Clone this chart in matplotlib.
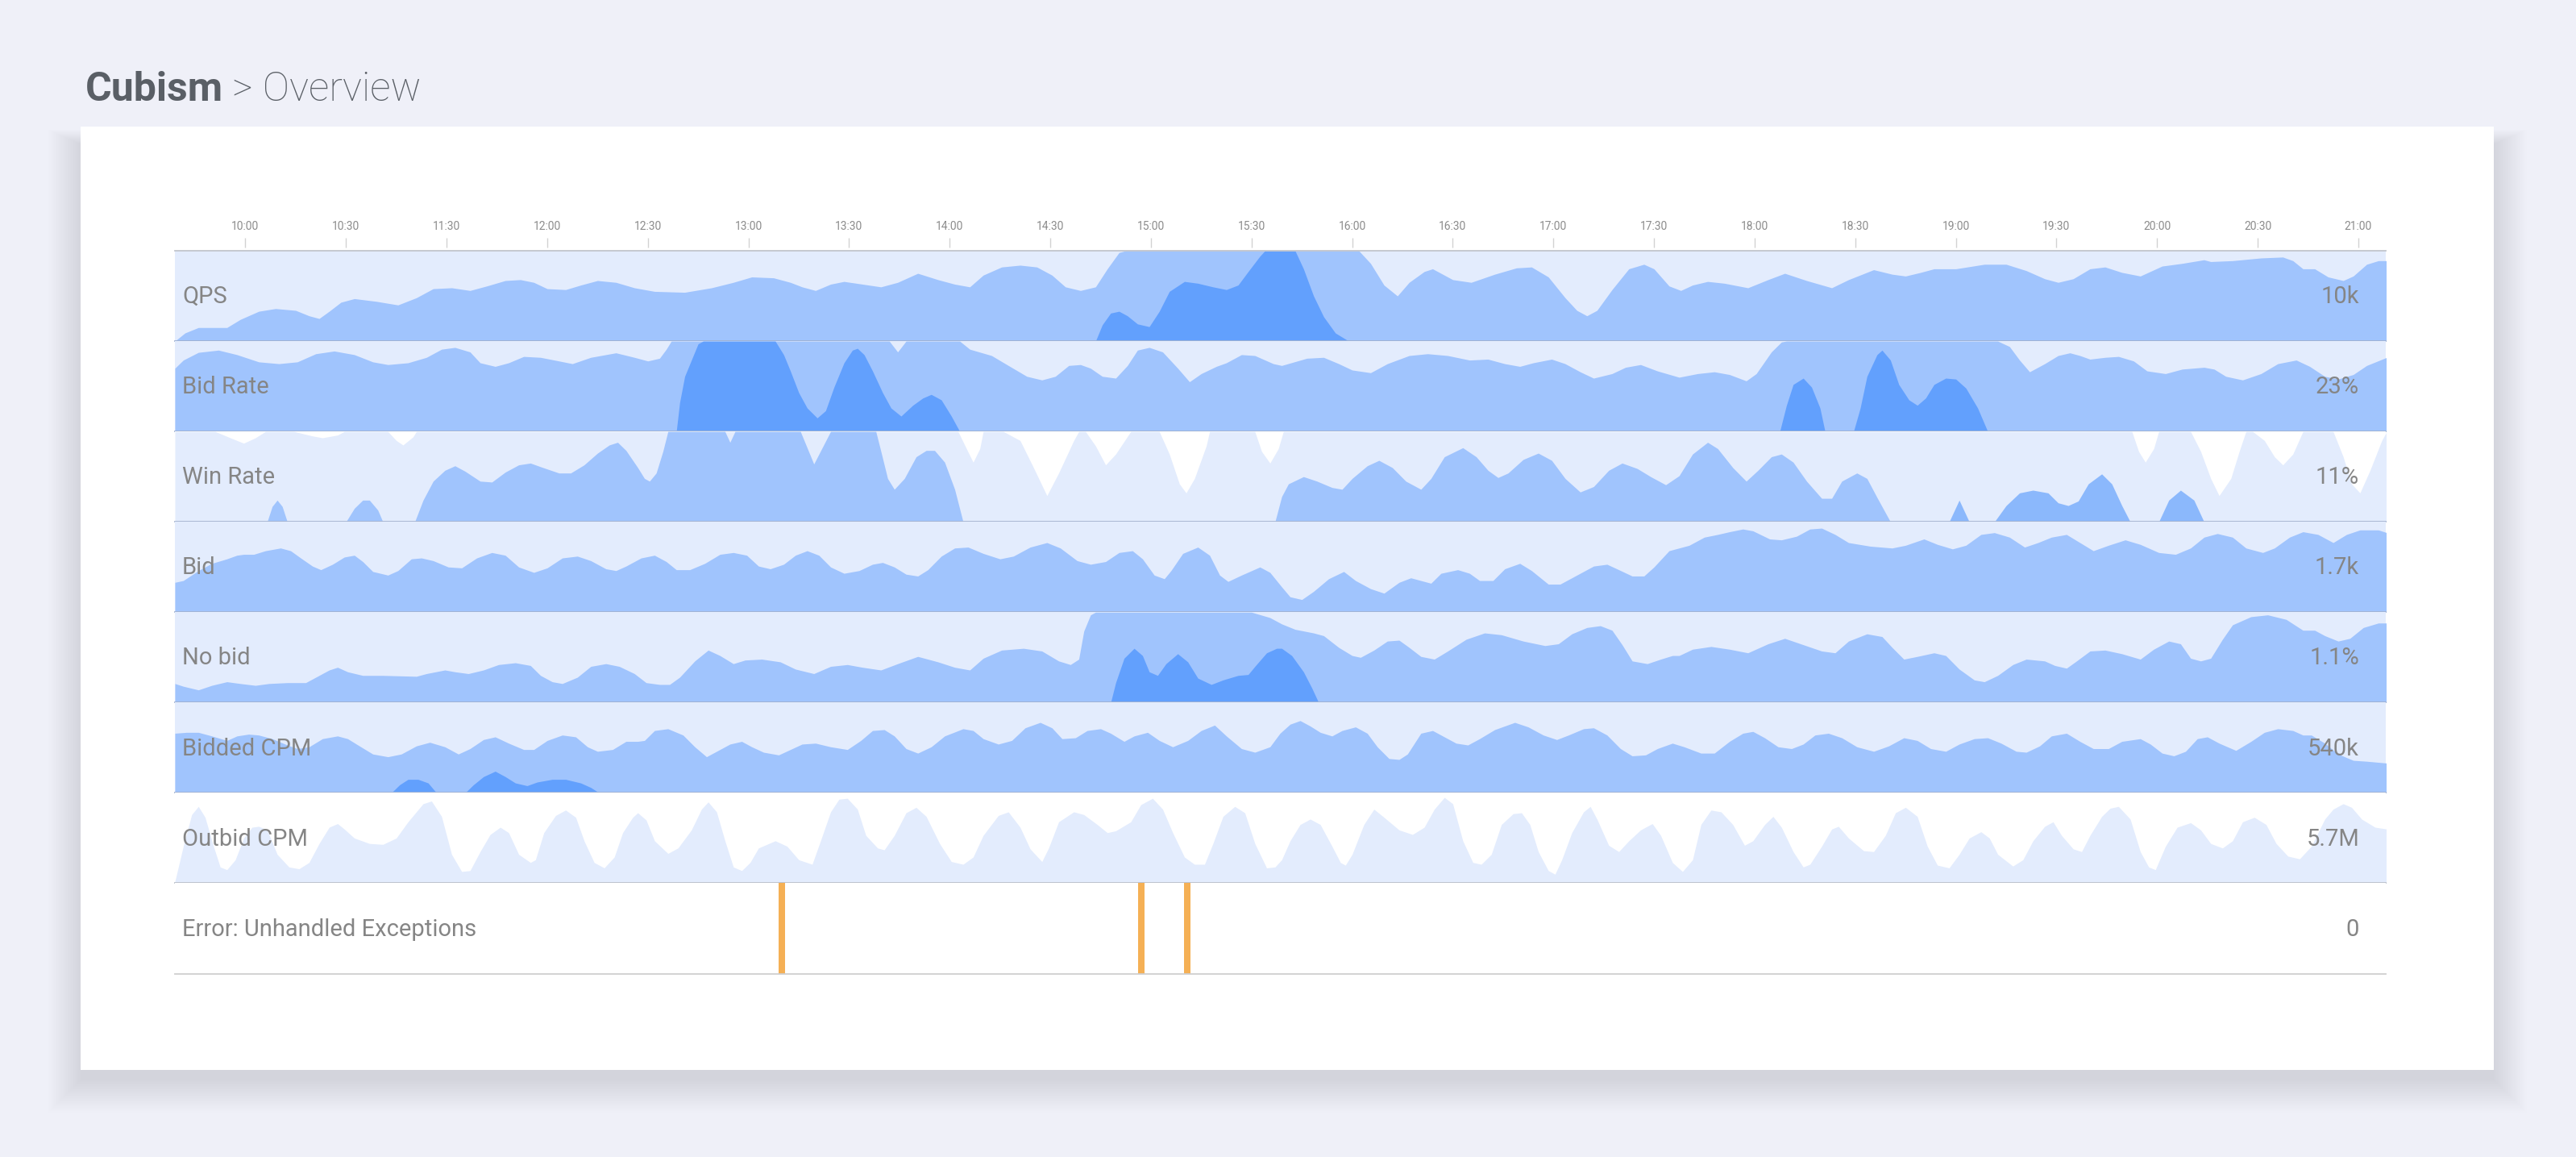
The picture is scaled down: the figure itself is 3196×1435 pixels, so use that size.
import numpy as np
import matplotlib
matplotlib.use("Agg")
import matplotlib.pyplot as plt
from matplotlib.patches import Rectangle

plt.rcParams['font.family'] = ['Roboto', 'DejaVu Sans']

# ---------------- data (time in minutes after 10:00, value = height within band 0..1) ----------------
tick_minutes = [0, 30, 60, 90, 120, 150, 180, 210, 240, 270, 300, 330, 360, 390, 420, 450, 480, 510, 540, 570, 600, 630]
tick_labels = ['10:00', '10:30', '11:30', '12:00', '12:30', '13:00', '13:30', '14:00', '14:30', '15:00', '15:30',
               '16:00', '16:30', '17:00', '17:30', '18:00', '18:30', '19:00', '19:30', '20:00', '20:30', '21:00']

row_names = ['QPS', 'Bid Rate', 'Win Rate', 'Bid', 'No bid', 'Bidded CPM', 'Outbid CPM', 'Error: Unhandled Exceptions']
row_values = ['10k', '23%', '11%', '1.7k', '1.1%', '540k', '5.7M', '0']

qps_mid = [(-21,0.0),(-18,0.09),(-14,0.15),(-10,0.15),(-5.5,0.15),(-1.5,0.24),(4,0.33),(9,0.36),(15,0.34),(19,0.28),
           (22,0.25),(25,0.33),(28.5,0.43),(32.5,0.47),(39,0.44),(45.5,0.40),(51,0.48),(56,0.58),(61.5,0.59),(67,0.56),
           (72,0.61),(77.5,0.67),(82,0.68),(86,0.65),(90,0.58),(95.5,0.57),(100,0.62),(105,0.67),(110.5,0.65),(116,0.59),
           (122,0.55),(131,0.54),(139,0.59),(145.5,0.65),(151,0.71),(157.5,0.70),(162.5,0.65),(166,0.60),(170,0.56),
           (174.5,0.63),(178.5,0.66),(184,0.63),(189.5,0.60),(194.5,0.65),(200.5,0.75),(206.5,0.68),(211.5,0.63),
           (216,0.60),(220,0.73),(225.5,0.82),(231,0.84),(236,0.82),(240.5,0.73),(244.5,0.60),(249,0.56),(253.5,0.60),
           (257,0.80),(260.5,0.98),(262.5,1.0),(332,1.0),(335.5,0.86),(339.5,0.62),(343.5,0.50),(347,0.65),(351.5,0.77),
           (354,0.80),(360,0.68),(365.5,0.65),(372.5,0.74),(379,0.81),(383.5,0.82),(388.5,0.71),(393.5,0.48),(397,0.34),
           (400,0.28),(403,0.34),(407.5,0.57),(412.5,0.80),(417,0.85),(420,0.80),(424.5,0.61),(428,0.56),(431.5,0.62),
           (436,0.66),(441,0.64),(448,0.59),(454,0.68),(459,0.75),(465.5,0.67),(473,0.59),(478,0.68),(485.5,0.79),
           (491,0.74),(495,0.72),(499.5,0.76),(503.5,0.80),(510,0.80),(518.5,0.85),(525,0.85),(531,0.78),(536.5,0.69),
           (540.5,0.65),(545,0.69),(550,0.80),(554.5,0.82),(559.5,0.76),(565,0.72),(571.5,0.83),(577.5,0.86),(584,0.90),
           (586,0.88),(592.5,0.89),(601,0.92),(607.5,0.93),(610.5,0.89),(613.5,0.80),(617,0.80),(621,0.71),(625.5,0.67),
           (628.5,0.72),(632.5,0.85),(636,0.89),(638.5,0.89)]
qps_dark = [(253.5,0),(255.5,0.18),(258,0.31),(260.5,0.33),(263,0.28),(266,0.19),(269.5,0.16),(272.5,0.33),(275.5,0.55),
            (280,0.66),(284,0.64),(288.5,0.60),(292.5,0.57),(296,0.62),(299,0.77),(302.5,0.94),(304,1.0),(313,1.0),
            (315.5,0.80),(318.5,0.50),(321.5,0.27),(325,0.09),(329,0)]

bidrate_mid = [(-21,0.70),(-18.5,0.79),(-14,0.875),(-8,0.90),(-2.5,0.85),(4,0.77),(10,0.75),(15.5,0.77),(21,0.86),
               (26.5,0.89),(32.5,0.85),(38,0.77),(42.5,0.74),(48.5,0.76),(54,0.82),(58.5,0.91),(62.5,0.93),(67,0.88),
               (70,0.76),(74.5,0.72),(78.5,0.76),(83,0.83),(88,0.82),(93.5,0.78),(97.5,0.75),(103,0.82),(110.5,0.87),
               (116,0.82),(120,0.78),(123.5,0.81),(125.5,0.91),(127,1.0),(192,1.0),(194.5,0.88),(197,1.0),(213,1.0),
               (216,0.91),(222.5,0.84),(227.5,0.73),(233,0.61),(237.5,0.57),(241.5,0.61),(245.5,0.73),(249,0.74),
               (252,0.70),(255.5,0.61),(259.5,0.59),(263,0.73),(266,0.90),(269.5,0.93),(273.5,0.88),(278,0.70),
               (281.5,0.55),(285,0.64),(289.5,0.72),(292.5,0.76),(297,0.85),(301,0.84),(306.5,0.75),(309,0.73),
               (316.5,0.81),(321.5,0.82),(326,0.75),(330,0.68),(335.5,0.65),(340.5,0.75),(347,0.84),(352.5,0.86),
               (358.5,0.84),(365,0.79),(370.5,0.80),(375.5,0.75),(380,0.72),(384,0.76),(389.5,0.80),(393.5,0.75),
               (398,0.66),(402,0.59),(407.5,0.64),(411.5,0.71),(416,0.74),(421,0.67),(427.5,0.60),(433,0.64),
               (438,0.66),(442.5,0.63),(447.5,0.56),(450.5,0.64),(455,0.88),(458,0.99),(459.5,1.0),(522.5,1.0),
               (526,0.94),(529,0.79),(532,0.66),(536.5,0.75),(540.5,0.84),(544,0.87),(547,0.84),(550,0.80),
               (554.5,0.82),(558.5,0.83),(563,0.78),(567,0.67),(572.5,0.64),(577.5,0.69),(584,0.71),(587,0.69),
               (590.5,0.61),(595.5,0.57),(601,0.64),(606,0.75),(611.5,0.79),(615.5,0.72),(620,0.61),(624,0.58),
               (628.5,0.63),(632.5,0.73),(638.5,0.82)]
bidrate_dark = [(128.5,0),(129.5,0.32),(131,0.61),(133,0.79),(135,0.97),(136.5,1.0),(158,1.0),(160.5,0.85),(162.5,0.67),
                (165,0.43),(167.5,0.26),(170.5,0.15),(173,0.23),(175.5,0.49),(178.5,0.76),(181,0.90),(182.5,0.92),
                (184.5,0.85),(187,0.67),(190,0.43),(192.5,0.26),(195.5,0.17),(199,0.29),(202,0.37),(204.5,0.41),
                (207.5,0.35),(210.5,0.17),(213,0),(457.5,0),(459.5,0.29),(461.5,0.52),(464.5,0.59),(467,0.49),
                (469.5,0.26),(471,0),(479.5,0),(481.5,0.26),(483.5,0.61),(486.5,0.85),(488,0.90),(490.5,0.79),
                (493,0.52),(496,0.35),(498.5,0.29),(501,0.37),(503.5,0.52),(507,0.59),(510,0.58),(513,0.48),
                (516.5,0.26),(519.5,0)]

winrate_light = [(-21,1.0),(-9,1.0),(-4.5,0.93),(-0.5,0.87),(3,0.93),(6,1.0),(14.5,1.0),(20,0.95),(23,0.93),(27.5,0.96),
                 (29.5,1.0),(42.5,1.0),(45,0.90),(47,0.85),(50,0.94),(51,1.0),(212.5,1.0),(215,0.81),(217,0.66),
                 (219,0.81),(220,1.0),(226,1.0),(231,0.90),(235,0.60),(239,0.29),(242.5,0.54),(247,0.90),(248.5,1.0),
                 (250.5,1.0),(253.5,0.84),(256.5,0.63),(259.5,0.75),(264,1.0),(272.5,1.0),(275.5,0.75),(278.5,0.42),
                 (280.5,0.32),(283,0.48),(286.5,0.84),(287.5,1.0),(301,1.0),(303,0.78),(305.5,0.65),(308,0.81),
                 (309.5,1.0),(562.5,1.0),(564.5,0.78),(566.5,0.66),(569,0.81),(570.5,1.0),(580,1.0),(583,0.78),
                 (586,0.48),(588.5,0.29),(592,0.48),(594.5,0.78),(596.5,1.0),(598.5,1.0),(602,0.90),(605,0.72),
                 (607.5,0.63),(610.5,0.75),(613.5,1.0),(622.5,1.0),(625.5,0.72),(628,0.42),(630.5,0.32),(633.5,0.57),
                 (637,0.90),(638.5,1.0)]
winrate_mid = [(6.5,0),(8,0.17),(9.5,0.24),(11,0.17),(12.5,0),(30,0),(32.5,0.15),(35,0.24),(37,0.24),(39.5,0.13),(41,0),
               (50.5,0),(53,0.24),(56,0.45),(59.5,0.57),(62.5,0.62),(65.5,0.56),(70,0.45),(73.5,0.44),(77.5,0.55),
               (81.5,0.63),(85,0.65),(88,0.61),(93.5,0.54),(97,0.54),(101,0.63),(105,0.76),(108.5,0.85),(111,0.88),
               (113.5,0.79),(117,0.60),(119,0.48),(120.5,0.45),(122.5,0.54),(124.5,0.78),(126,1.0),(143,1.0),
               (144.5,0.88),(146,1.0),(165.5,1.0),(169.5,0.64),(174.5,1.0),(188,1.0),(189.5,0.78),(191.5,0.48),
               (193.5,0.36),(196.5,0.48),(200,0.72),(203,0.79),(205.5,0.79),(208.5,0.66),(211.5,0.36),(214,0),
               (307,0),(309,0.28),(311,0.42),(315.5,0.50),(319.5,0.45),(324,0.38),(327,0.36),(330,0.48),(334.5,0.62),
               (338,0.68),(342,0.60),(346,0.45),(350.5,0.36),(353.5,0.48),(357.5,0.72),(363,0.82),(367,0.72),
               (370.5,0.57),(373.5,0.49),(376.5,0.54),(381,0.69),(385.5,0.76),(389.5,0.68),(393.5,0.48),(398,0.33),
               (402,0.39),(406.5,0.57),(410.5,0.65),(415,0.59),(419,0.50),(423.5,0.41),(427.5,0.51),(431.5,0.75),
               (436,0.88),(439,0.81),(443.5,0.60),(447.5,0.45),(451,0.57),(455,0.72),(458,0.75),(461.5,0.66),
               (465.5,0.45),(470,0.26),(473,0.26),(476,0.45),(480.5,0.54),(483.5,0.48),(486.5,0.27),(490.5,0)]
winrate_mid2 = [(508,0),(511,0.24),(514,0),(521.5,0),(525,0.18),(529,0.32),(533,0.35),(537.5,0.32),(540.5,0.21),
                (543.5,0.18),(546.5,0.23),(549.5,0.42),(553.5,0.53),(556.5,0.42),(559.5,0.18),(562,0),(570.5,0),
                (573.5,0.24),(577,0.35),(581,0.24),(584,0)]

bid_mid = [(-21,0.33),(-18.5,0.35),(-14,0.46),(-10,0.54),(-5.5,0.59),(-2.5,0.63),(-0.5,0.64),(2.5,0.64),(6,0.68),
           (10.5,0.71),(13.5,0.68),(16.5,0.60),(20,0.51),(22.5,0.47),(26,0.53),(29.5,0.61),(32.5,0.63),(35,0.56),
           (38,0.45),(42.5,0.41),(45.5,0.46),(49.5,0.59),(52.5,0.60),(56,0.57),(60.5,0.50),(64.5,0.49),(69,0.60),
           (73.5,0.66),(77.5,0.63),(81.5,0.50),(86,0.44),(90,0.49),(94.5,0.60),(99,0.62),(103,0.57),(107.5,0.48),
           (110.5,0.46),(113.5,0.51),(118,0.60),(122,0.63),(125.5,0.56),(128.5,0.47),(132.5,0.47),(137,0.54),
           (141.5,0.64),(145.5,0.66),(149.5,0.63),(153,0.51),(156.5,0.48),(160.5,0.53),(164,0.63),(167.5,0.68),
           (171,0.63),(174.5,0.50),(178.5,0.43),(183,0.46),(187,0.53),(190,0.55),(193.5,0.50),(197,0.42),
           (200.5,0.40),(203.5,0.47),(207.5,0.62),(211.5,0.71),(215.5,0.72),(220,0.65),(225,0.59),(229,0.62),
           (234,0.72),(239,0.77),(243,0.71),(248,0.57),(252,0.53),(256.5,0.56),(260.5,0.66),(264.5,0.68),
           (267.5,0.59),(271,0.41),(274,0.37),(276,0.46),(279.5,0.65),(284,0.72),(287.5,0.63),(290.5,0.41),
           (293,0.34),(297,0.41),(302.5,0.50),(305.5,0.44),(309,0.28),(311.5,0.17),(315,0.14),(318.5,0.23),
           (323,0.37),(327.5,0.45),(331,0.35),(335.5,0.26),(339.5,0.21),(344,0.33),(347.5,0.38),(351.5,0.34),
           (353.5,0.32),(356.5,0.43),(361.5,0.47),(365,0.43),(368,0.35),(372,0.35),(375.5,0.48),(380,0.54),
           (383.5,0.46),(388.5,0.31),(392,0.31),(397,0.41),(402,0.51),(406,0.53),(409.5,0.47),(413.5,0.40),
           (417,0.40),(420,0.50),(424.5,0.68),(427.5,0.71),(430.5,0.74),(435,0.83),(439,0.86),(442.5,0.89),
           (446.5,0.92),(449.5,0.90),(454.5,0.81),(458,0.80),(462.5,0.84),(466.5,0.92),(470,0.93),(474,0.86),
           (478,0.77),(484.5,0.73),(491,0.71),(495,0.74),(500.5,0.81),(504.5,0.75),(509,0.70),(513,0.74),
           (517.5,0.86),(521.5,0.88),(526,0.83),(530.5,0.72),(534.5,0.77),(538.5,0.83),(543,0.86),(547,0.77),
           (551,0.68),(555.5,0.74),(560.5,0.80),(565,0.75),(570.5,0.66),(575.5,0.64),(580,0.71),(584,0.83),
           (588,0.87),(592.5,0.83),(596.5,0.71),(601.5,0.66),(605,0.71),(609.5,0.83),(613.5,0.89),(618,0.86),
           (622.5,0.77),(626.5,0.86),(630.5,0.91),(636,0.91),(638.5,0.88)]

nobid_mid = [(-21,0.21),(-18.5,0.18),(-14,0.14),(-10,0.19),(-5.5,0.23),(-1.5,0.21),(3,0.19),(7,0.21),(12.5,0.22),
             (18,0.22),(22,0.30),(25,0.36),(27.5,0.39),(30.5,0.34),(35,0.30),(41,0.30),(51,0.29),(54,0.32),
             (59.5,0.36),(62.5,0.34),(66.5,0.32),(71,0.36),(75.5,0.42),(80.5,0.44),(85,0.41),(88,0.30),(91.5,0.23),
             (94.5,0.21),(99,0.28),(103,0.40),(107.5,0.43),(111.5,0.40),(116,0.32),(119.5,0.22),(123.5,0.20),
             (126.5,0.20),(129.5,0.28),(134,0.46),(138,0.58),(141.5,0.52),(145.5,0.43),(149,0.47),(154,0.48),
             (159.5,0.45),(164,0.37),(169.5,0.32),(174.5,0.40),(179.5,0.42),(184,0.39),(189.5,0.36),(194.5,0.43),
             (200.5,0.51),(206.5,0.45),(211.5,0.39),(216,0.36),(220,0.49),(225.5,0.58),(232,0.60),(237.5,0.57),
             (242.5,0.46),(246,0.42),(248.5,0.48),(250,0.79),(252,0.97),(253.5,1.0),(300,1.0),(305.5,0.94),
             (309,0.87),(313,0.81),(318.5,0.77),(321.5,0.74),(326,0.61),(330,0.52),(332.5,0.50),(336.5,0.58),
             (340.5,0.68),(344,0.69),(347,0.61),(350.5,0.51),(354.5,0.48),(358.5,0.57),(364,0.70),(369.5,0.77),
             (374.5,0.75),(381,0.68),(387.5,0.63),(391.5,0.65),(395.5,0.76),(400,0.83),(404,0.85),(407.5,0.80),
             (410.5,0.64),(413.5,0.46),(418,0.43),(422,0.48),(425.5,0.52),(427.5,0.52),(431.5,0.59),(437,0.62),
             (442.5,0.59),(448,0.55),(454,0.65),(459,0.71),(464.5,0.64),(470,0.57),(474,0.55),(478,0.68),
             (483.5,0.76),(488,0.73),(491,0.61),(494.5,0.48),(498.5,0.51),(503.5,0.55),(507,0.52),(511,0.37),
             (515.5,0.25),(518.5,0.23),(522.5,0.30),(527,0.42),(531,0.48),(536.5,0.46),(539.5,0.41),(543,0.38),
             (546,0.46),(550,0.57),(554.5,0.58),(559.5,0.54),(565,0.48),(569,0.59),(573.5,0.68),(577,0.65),
             (580,0.49),(583,0.46),(586,0.49),(589.5,0.70),(592.5,0.86),(598,0.95),(603,0.97),(608.5,0.92),
             (613.5,0.80),(617,0.80),(620,0.74),(624,0.68),(627.5,0.71),(631.5,0.83),(636,0.88),(638.5,0.88)]
nobid_dark = [(258,0),(259.5,0.22),(262,0.49),(265,0.60),(267.5,0.52),(269.5,0.34),(272,0.30),(274.5,0.43),(278,0.54),
              (281,0.45),(284,0.27),(288,0.20),(291.5,0.25),(296,0.30),(299,0.31),(301,0.40),(304.5,0.55),(307.5,0.60),
              (309,0.60),(312,0.52),(315.5,0.34),(318,0.16),(320,0)]

bcpm_mid = [(-21,0.66),(-17.5,0.67),(-14,0.67),(-10,0.63),(-5.5,0.58),(-2.5,0.63),(1,0.65),(4,0.64),(8,0.60),(12.5,0.53),
            (15.5,0.49),(19,0.51),(23,0.60),(27.5,0.63),(30.5,0.60),(34,0.52),(38,0.43),(42.5,0.40),(46.5,0.43),
            (51,0.52),(55,0.56),(59.5,0.51),(63.5,0.43),(67,0.49),(71,0.59),(74.5,0.62),(78.5,0.55),(83,0.48),
            (86,0.48),(90,0.58),(94.5,0.64),(98.5,0.62),(102,0.51),(105,0.46),(109.5,0.48),(113.5,0.57),(117,0.57),
            (119,0.58),(122,0.69),(126,0.71),(130.5,0.64),(134,0.51),(137.5,0.40),(141.5,0.48),(144.5,0.54),
            (148,0.57),(151,0.51),(154.5,0.45),(159,0.42),(162.5,0.48),(166,0.54),(170,0.55),(174.5,0.51),
            (179.5,0.48),(183.5,0.58),(187,0.69),(190.5,0.70),(193.5,0.63),(197,0.49),(200.5,0.44),(204.5,0.51),
            (208.5,0.63),(214,0.71),(217,0.69),(220,0.60),(224.5,0.54),(228.5,0.58),(232.5,0.72),(237,0.78),
            (240.5,0.72),(243.5,0.60),(247.5,0.61),(251,0.69),(255,0.71),(258,0.66),(262,0.57),(265,0.63),
            (269,0.67),(272.5,0.58),(276.5,0.51),(281,0.58),(285,0.69),(289,0.75),(292.5,0.63),(297,0.49),
            (301,0.45),(305.5,0.51),(308.5,0.66),(311.5,0.76),(314.5,0.80),(317.5,0.74),(320.5,0.67),(324,0.63),
            (327,0.69),(331,0.73),(334.5,0.66),(337.5,0.51),(341,0.38),(344,0.37),(346.5,0.43),(350.5,0.66),
            (354,0.69),(357,0.63),(361,0.55),(364.5,0.53),(368,0.60),(372.5,0.70),(378.5,0.78),(382.5,0.73),
            (387,0.64),(391,0.59),(394.5,0.64),(399,0.71),(402,0.72),(406,0.64),(410,0.49),(413.5,0.41),
            (417.5,0.42),(421,0.49),(425.5,0.55),(429,0.51),(434,0.44),(438,0.44),(442.5,0.57),(446.5,0.66),
            (449.5,0.68),(453,0.61),(457,0.51),(461,0.49),(464.5,0.54),(468,0.64),(472,0.66),(476,0.61),
            (480.5,0.51),(485.5,0.46),(490,0.52),(494.5,0.61),(498.5,0.58),(502.5,0.49),(507,0.46),(511,0.54),
            (515.5,0.60),(519.5,0.61),(523.5,0.55),(528,0.46),(531,0.45),(535,0.52),(538.5,0.63),(543,0.66),
            (547,0.57),(551,0.49),(555.5,0.49),(559.5,0.57),(565,0.60),(568,0.54),(571.5,0.44),(575,0.41),
            (578.5,0.46),(582,0.60),(585,0.62),(588.5,0.55),(593.5,0.47),(598,0.57),(602,0.67),(606,0.71),
            (610.5,0.69),(613.5,0.64),(616,0.64),(620,0.55),(624,0.43),(628.5,0.36),(632.5,0.35),(638.5,0.33)]
bcpm_dark = [(43.5,0),(46,0.09),(48.5,0.15),(51.5,0.15),(54.5,0.11),(57,0),(65.5,0),(68,0.09),(71,0.18),(74.5,0.24),
             (77.5,0.18),(80.5,0.11),(84,0.08),(87,0.12),(91.5,0.15),(95.5,0.15),(100,0.11),(103,0.06),(105.5,0)]

ocpm_light = [(-21,0.02),(-18.5,0.41),(-16,0.76),(-14,0.85),(-12,0.73),(-9.5,0.41),(-7.5,0.18),(-5.5,0.15),(-3,0.26),
              (-0.5,0.50),(2,0.62),(4,0.63),(6.5,0.59),(9.5,0.32),(13,0.18),(16,0.16),(19,0.23),(22,0.44),(25,0.62),
              (27.5,0.66),(29.5,0.60),(32.5,0.50),(37,0.44),(41,0.43),(45,0.50),(48.5,0.68),(53,0.88),(55.5,0.91),
              (58.5,0.74),(61.5,0.32),(64.5,0.13),(67,0.14),(70,0.35),(73,0.54),(76,0.62),(78.5,0.56),(81.5,0.32),
              (85,0.23),(86.5,0.26),(89,0.56),(92.5,0.75),(95.5,0.81),(98.5,0.73),(101,0.47),(104,0.23),(107,0.17),
              (110,0.29),(112.5,0.56),(115.5,0.73),(117,0.78),(119.5,0.70),(122,0.47),(126,0.33),(129,0.39),
              (133,0.59),(136,0.82),(138,0.90),(140.5,0.79),(143,0.47),(145.5,0.18),(148,0.14),(150.5,0.23),
              (153,0.39),(158,0.47),(161.5,0.41),(165,0.26),(169,0.21),(171.5,0.47),(174.5,0.79),(177,0.93),
              (179.5,0.94),(182.5,0.82),(185,0.53),(188.5,0.39),(190.5,0.37),(193.5,0.53),(197,0.78),(200,0.84),
              (203,0.74),(207,0.44),(210.5,0.24),(214,0.21),(217,0.29),(220,0.53),(224.5,0.75),(227.5,0.79),
              (231,0.62),(234,0.38),(237.5,0.24),(239.5,0.39),(242.5,0.68),(247,0.79),(250,0.76),(254,0.65),
              (257,0.56),(259.5,0.58),(264,0.68),(267,0.87),(270.5,0.94),(273.5,0.82),(276.5,0.56),(280,0.29),
              (283,0.21),(286,0.21),(288.5,0.44),(291.5,0.74),(295,0.85),(298,0.78),(301,0.44),(304.5,0.17),
              (307,0.18),(309,0.26),(311.5,0.47),(314.5,0.65),(317.5,0.71),(320.5,0.65),(324,0.41),(326.5,0.23),
              (328,0.20),(330,0.32),(333.5,0.65),(336.5,0.82),(339.5,0.73),(344,0.59),(348,0.54),(351.5,0.62),
              (354.5,0.82),(357.5,0.95),(360,0.88),(363,0.47),(366,0.23),(368.5,0.21),(371.5,0.32),(374.5,0.65),
              (378,0.77),(380.5,0.78),(383,0.65),(385.5,0.35),(388.5,0.14),(390.5,0.10),(392.5,0.26),(395.5,0.56),
              (399,0.79),(401,0.85),(403,0.71),(406.5,0.42),(409.5,0.35),(412.5,0.47),(416,0.59),(419.5,0.66),
              (422,0.53),(425.5,0.23),(428.5,0.13),(431.5,0.26),(434,0.65),(437,0.81),(440,0.79),(443.5,0.65),
              (447,0.42),(449.5,0.47),(453,0.65),(455.5,0.74),(458,0.62),(461.5,0.35),(464.5,0.18),(466.5,0.21),
              (470,0.41),(473,0.60),(475,0.63),(478,0.50),(482.5,0.36),(485.5,0.35),(489,0.53),(492,0.78),
              (495,0.84),(498.5,0.74),(501.5,0.41),(504.5,0.20),(508,0.17),(511,0.32),(514,0.50),(517.5,0.57),
              (520,0.50),(522.5,0.32),(527,0.19),(530,0.26),(533,0.47),(536.5,0.63),(539,0.68),(541.5,0.53),
              (545,0.38),(547.5,0.35),(550,0.53),(553.5,0.74),(556,0.83),(558.5,0.85),(562,0.71),(565,0.35),
              (567.5,0.18),(569.5,0.15),(572.5,0.41),(576,0.62),(580,0.67),(583,0.59),(586,0.44),(589.5,0.39),
              (592.5,0.47),(595.5,0.68),(599,0.73),(602.5,0.65),(605.5,0.44),(609,0.30),(612.5,0.27),(616,0.41),
              (620,0.71),(622.5,0.82),(625.5,0.88),(628,0.84),(631,0.71),(635,0.62),(638.5,0.60)]

error_t = [160.0, 267.1, 280.8]
error_v = [1, 1, 1]

# ---------------- style ----------------
BG = '#eff0f8'
LIGHT = '#e3ecfd'
MID = '#a0c4fd'
DARK = '#62a0fd'
MID2 = '#8bb8fc'
ORANGE = '#f5b055'
TXT = '#858585'
TITLE = '#5a5f66'

W, H = 3196, 1435
fig = plt.figure(figsize=(W / 100, H / 100), dpi=100)
fig.patch.set_facecolor(BG)


def fx(px):
    return px / W


def fy(py):
    return 1 - py / H


# card with soft shadow, mostly below and at the sides
cx0, cy0, cx1, cy1 = 100, 157, 3094, 1327
for i in range(28):
    s = i * 1.5
    top = cy0 + 22 - 0.45 * s
    bottom = cy1 + 12 + s
    fig.add_artist(Rectangle((fx(cx0 - s), fy(bottom)), fx(cx1 - cx0 + 2 * s), (bottom - top) / H,
                             transform=fig.transFigure, facecolor='#1c2238', alpha=0.0055, lw=0, zorder=-3))
fig.add_artist(Rectangle((fx(cx0), fy(cy1)), fx(cx1 - cx0), (cy1 - cy0) / H, transform=fig.transFigure,
                         facecolor='white', lw=0, zorder=-2))

# title
fig.text(fx(106), fy(125), 'Cubism', fontsize=36, fontweight='bold', color=TITLE, va='baseline', ha='left')
fig.text(fx(288), fy(125), '> Overview', fontsize=36, fontweight='light', color=TITLE, va='baseline', ha='left')

X0, X1 = 217, 2960
XLIM = (-21, 638.2)
ROW_TOP = 311
ROW_H = 112.07

# time axis
ax_t = fig.add_axes([fx(X0), fy(307), fx(X1 - X0), 0.0001])
ax_t.set_xlim(*XLIM)
ax_t.set_xticks(tick_minutes)
ax_t.set_xticklabels(tick_labels)
ax_t.tick_params(axis='x', top=True, labeltop=True, bottom=False, labelbottom=False, direction='out',
                 length=8.6, width=1.0, color='#d2d2d2', pad=5, labelsize=10, labelcolor='#8c8c8c')
ax_t.set_yticks([])
for sp in ax_t.spines.values():
    sp.set_visible(False)
ax_t.patch.set_alpha(0)

layers = {
    0: [(qps_mid, MID), (qps_dark, DARK)],
    1: [(bidrate_mid, MID), (bidrate_dark, DARK)],
    2: [(winrate_light, LIGHT), (winrate_mid, MID), (winrate_mid2, MID2)],
    3: [(bid_mid, MID)],
    4: [(nobid_mid, MID), (nobid_dark, DARK)],
    5: [(bcpm_mid, MID), (bcpm_dark, DARK)],
    6: [(ocpm_light, LIGHT)],
}
full_light = {0, 1, 3, 4, 5}
line_cols = ['#9fb1d1', '#9fb1d1', '#a6b4cf', '#9fb1d1', '#9fb1d1', '#9fb1d1', '#b9bfca', '#cfcfcf']

for i, name in enumerate(row_names):
    top = ROW_TOP + i * ROW_H
    ax = fig.add_axes([fx(X0), fy(top + ROW_H), fx(X1 - X0), ROW_H / H])
    ax.set_xlim(*XLIM)
    ax.set_ylim(0, 1)
    ax.set_facecolor(LIGHT if i in full_light else 'white')
    for series, col in layers.get(i, []):
        arr = np.array(series, dtype=float)
        ax.fill_between(arr[:, 0], 0, arr[:, 1], color=col, lw=0, zorder=1)
    if i == 7:
        ax.bar(error_t, error_v, width=1.8, color=ORANGE, zorder=1)
    ax.set_xticks([])
    ax.set_yticks([])
    for k, sp in ax.spines.items():
        sp.set_visible(False)
    ax.spines['bottom'].set_visible(True)
    ax.spines['bottom'].set_color(line_cols[i])
    ax.spines['bottom'].set_linewidth(1.3)
    if i == 0:
        ax.spines['top'].set_visible(True)
        ax.spines['top'].set_color('#c2c5cc')
        ax.spines['top'].set_linewidth(1.3)
    ax.text((226 - X0) / (X1 - X0), 0.49, name, transform=ax.transAxes, ha='left', va='center',
            fontsize=21, fontweight='normal', color=TXT, zorder=5)
    ax.text((2927 - X0) / (X1 - X0), 0.49, row_values[i], transform=ax.transAxes, ha='right', va='center',
            fontsize=21, fontweight='normal', color=TXT, zorder=5)

fig.savefig('out.png', dpi=100, facecolor=fig.get_facecolor())
